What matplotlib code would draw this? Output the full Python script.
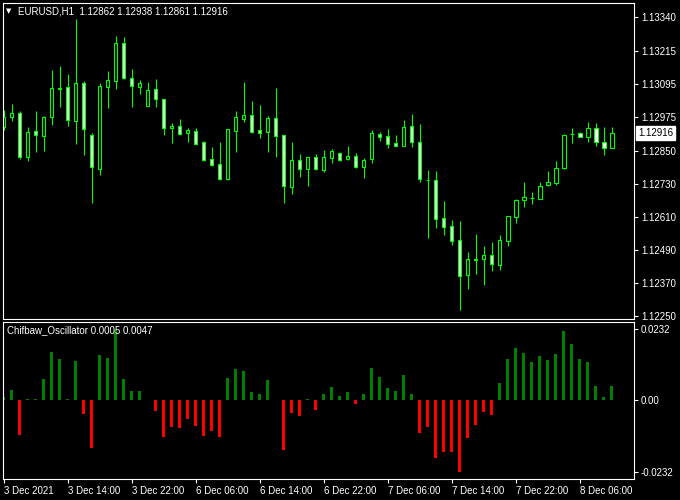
import matplotlib
matplotlib.use('Agg')
import matplotlib.pyplot as plt
import matplotlib.transforms as mtransforms

# EURUSD H1 candles, 77 bars
opens = [1.12939, 1.12973, 1.12988, 1.12830, 1.12922, 1.12906, 1.12973, 1.13078, 1.13083, 1.12961,
         1.13097, 1.12908, 1.12786, 1.13085, 1.13107, 1.13243, 1.13115, 1.13085, 1.13016, 1.13075,
         1.13039, 1.12933, 1.12942, 1.12915, 1.12923, 1.12882, 1.12820, 1.12802, 1.12749, 1.12924,
         1.12968, 1.12981, 1.12926, 1.12921, 1.12970, 1.12908, 1.12720, 1.12816, 1.12786, 1.12829,
         1.12781, 1.12826, 1.12843, 1.12822, 1.12832, 1.12793, 1.12820, 1.12911, 1.12905, 1.12878,
         1.12870, 1.12940, 1.12882, 1.12745, 1.12744, 1.12606, 1.12576, 1.12526, 1.12399, 1.12453,
         1.12458, 1.12470, 1.12436, 1.12523, 1.12611, 1.12673, 1.12680, 1.12676, 1.12728, 1.12735,
         1.12790, 1.12912, 1.12915, 1.12903, 1.12933, 1.12882, 1.12862]
highs = [1.13000, 1.13022, 1.12996, 1.12939, 1.12996, 1.12978, 1.13146, 1.13160, 1.13131, 1.13332,
         1.13106, 1.12915, 1.13099, 1.13143, 1.13270, 1.13266, 1.13149, 1.13109, 1.13101, 1.13113,
         1.13040, 1.12954, 1.12967, 1.12935, 1.12933, 1.12886, 1.12866, 1.12883, 1.12931, 1.12996,
         1.13102, 1.13033, 1.13018, 1.12978, 1.13080, 1.12909, 1.12883, 1.12839, 1.12830, 1.12839,
         1.12854, 1.12858, 1.12847, 1.12869, 1.12842, 1.12824, 1.12927, 1.12921, 1.12931, 1.12909,
         1.12963, 1.12985, 1.12949, 1.12781, 1.12777, 1.12668, 1.12599, 1.12595, 1.12482, 1.12548,
         1.12504, 1.12518, 1.12544, 1.12614, 1.12675, 1.12737, 1.12701, 1.12737, 1.12777, 1.12814,
         1.12912, 1.12935, 1.12920, 1.12956, 1.12952, 1.12938, 1.12938]
lows = [1.12927, 1.12961, 1.12820, 1.12814, 1.12848, 1.12851, 1.12946, 1.13012, 1.12942, 1.12876,
        1.12836, 1.12662, 1.12764, 1.13008, 1.13076, 1.13113, 1.13012, 1.13058, 1.13014, 1.13012,
        1.12910, 1.12881, 1.12909, 1.12884, 1.12875, 1.12814, 1.12797, 1.12746, 1.12745, 1.12848,
        1.12957, 1.12917, 1.12899, 1.12848, 1.12830, 1.12662, 1.12695, 1.12757, 1.12724, 1.12782,
        1.12774, 1.12808, 1.12814, 1.12818, 1.12788, 1.12753, 1.12805, 1.12888, 1.12861, 1.12868,
        1.12868, 1.12866, 1.12736, 1.12534, 1.12571, 1.12544, 1.12509, 1.12271, 1.12347, 1.12402,
        1.12362, 1.12413, 1.12417, 1.12504, 1.12589, 1.12647, 1.12658, 1.12674, 1.12724, 1.12726,
        1.12785, 1.12881, 1.12900, 1.12884, 1.12870, 1.12837, 1.12861]
closes = [1.12975, 1.12988, 1.12827, 1.12919, 1.12908, 1.12974, 1.13079, 1.13081, 1.12963, 1.13097,
          1.12930, 1.12791, 1.13087, 1.13109, 1.13243, 1.13118, 1.13088, 1.13097, 1.13073, 1.13039,
          1.12933, 1.12942, 1.12912, 1.12927, 1.12877, 1.12816, 1.12801, 1.12749, 1.12930, 1.12973,
          1.12981, 1.12921, 1.12915, 1.12970, 1.12906, 1.12723, 1.12816, 1.12786, 1.12829, 1.12785,
          1.12829, 1.12849, 1.12818, 1.12832, 1.12793, 1.12816, 1.12915, 1.12903, 1.12877, 1.12870,
          1.12937, 1.12884, 1.12747, 1.12743, 1.12604, 1.12574, 1.12523, 1.12396, 1.12457, 1.12457,
          1.12470, 1.12437, 1.12526, 1.12612, 1.12672, 1.12683, 1.12681, 1.12723, 1.12736, 1.12787,
          1.12909, 1.12911, 1.12903, 1.12933, 1.12882, 1.12862, 1.12916]

# Chifbaw oscillator histogram
osc = [0.0011, 0.0032, -0.0113, 0.0006, 0.0003, 0.0068, 0.0156, 0.0133, 0.0004, 0.0127,
       -0.0045, -0.0156, 0.0146, 0.0136, 0.0227, 0.0068, 0.0029, 0.0029, 0.0002, -0.0036,
       -0.0120, -0.0088, -0.0091, -0.0062, -0.0084, -0.0117, -0.0101, -0.0120, 0.0071, 0.0101,
       0.0094, 0.0026, 0.0019, 0.0065, 0.0002, -0.0162, -0.0041, -0.0051, 0.0003, -0.0032,
       0.0019, 0.0042, 0.0013, 0.0026, -0.0013, 0.0019, 0.0104, 0.0075, 0.0039, 0.0029,
       0.0081, 0.0019, -0.0107, -0.0088, -0.0188, -0.0169, -0.0169, -0.0234, -0.0123, -0.0081,
       -0.0039, -0.0049, 0.0055, 0.0133, 0.0169, 0.0153, 0.0123, 0.0143, 0.0130, 0.0149,
       0.0224, 0.0182, 0.0133, 0.0123, 0.0045, 0.0010, 0.0047]

time_labels = ['3 Dec 2021', '3 Dec 14:00', '3 Dec 22:00', '6 Dec 06:00', '6 Dec 14:00',
               '6 Dec 22:00', '7 Dec 06:00', '7 Dec 14:00', '7 Dec 22:00', '8 Dec 06:00']
price_ticks = [1.13340, 1.13215, 1.13095, 1.12975, 1.12850, 1.12730, 1.12610, 1.12490, 1.12370, 1.12250]
osc_ticks = [0.0232, 0.0, -0.0232]
osc_tick_labels = ['0.0232', '0.00', '-0.0232']

LIME = '#00ff00'
plt.rcParams['font.family'] = ['Liberation Sans', 'DejaVu Sans']

fig = plt.figure(figsize=(6.8, 5.0), dpi=100, facecolor='black')
ax = fig.add_axes([2.5/680, 1 - 319/500, 631.5/680, 316.5/500], facecolor='black')
ax2 = fig.add_axes([2.5/680, 1 - 479/500, 631.5/680, 157.3/500], facecolor='black')

x = list(range(len(opens)))
ax.vlines(x, lows, highs, color=LIME, lw=0.8, zorder=1)
bottoms = [min(o, c) for o, c in zip(opens, closes)]
heights = [abs(c - o) for o, c in zip(opens, closes)]
fcs = ['white' if c < o else 'black' for o, c in zip(opens, closes)]
ax.bar(x, heights, bottom=bottoms, width=0.48, color=fcs, edgecolor=LIME, lw=0.8, zorder=2)

ocols = ['#008000' if v >= 0 else '#ff0000' for v in osc]
ax2.bar(x, osc, width=0.38, color=ocols, lw=0)

for a in (ax, ax2):
    a.set_xlim(-0.125, 78.8)
    for s in a.spines.values():
        s.set_color('white')
        s.set_linewidth(0.8)
    a.yaxis.tick_right()
    a.tick_params(axis='y', colors='white', length=3, width=0.8, labelsize=7, pad=2)

ax.set_ylim(1.12238, 1.13392)
ax.set_yticks(price_ticks)
ax.set_yticklabels(['%.5f' % p for p in price_ticks])
ax.tick_params(axis='x', bottom=False, labelbottom=False)

ax2.set_ylim(-0.02553, 0.02553)
ax2.set_yticks(osc_ticks)
ax2.set_yticklabels(osc_tick_labels)
ax2.set_xticks(range(0, 8 * len(time_labels), 8))
ax2.set_xticklabels(time_labels, ha='left')
ax2.tick_params(axis='x', colors='white', length=3, width=0.8, labelsize=7, pad=2)

# current price marker
trans = mtransforms.blended_transform_factory(ax.transAxes, ax.transData)
ax.text(1.0 + 4/631.5, closes[-1], '%.5f' % closes[-1], transform=trans, color='black',
        fontsize=7, ha='left', va='center', clip_on=False,
        bbox=dict(boxstyle='square,pad=0.2', facecolor='white', edgecolor='white'))

ax.text(0.0103, 0.973, '\u25bc', transform=ax.transAxes, color='white', fontsize=5,
        ha='center', va='center', family='DejaVu Sans')
ax.text(0.0245, 0.973, 'EURUSD,H1  1.12862 1.12938 1.12861 1.12916', transform=ax.transAxes,
        color='white', fontsize=7, ha='left', va='center')
ax2.text(0.0076, 0.947, 'Chifbaw_Oscillator 0.0005 0.0047', transform=ax2.transAxes,
         color='white', fontsize=7, ha='left', va='center')

fig.savefig('out.png', dpi=100, facecolor='black')
